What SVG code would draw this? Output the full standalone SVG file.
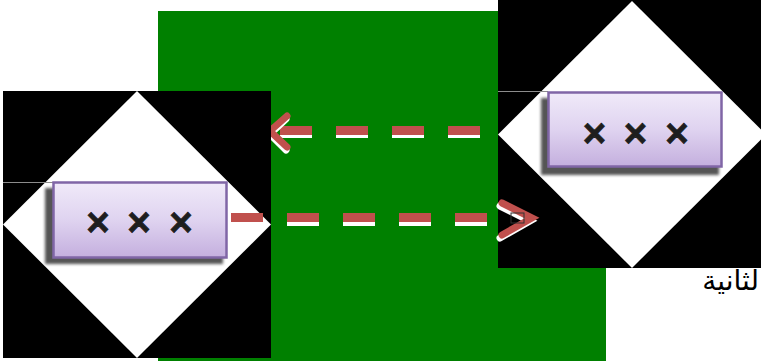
<svg xmlns="http://www.w3.org/2000/svg" width="761" height="363" viewBox="0 0 761 363">
<style>
.sq{fill:#000}
.dia{fill:#fff}
.lead{stroke:#8c8c8c;stroke-width:1.2;fill:none}
.box{fill:url(#pg);stroke:#8066a6;stroke-width:2.5}
.shadow{fill:#555;filter:url(#bl)}
.xx{font-family:"Liberation Sans",Arial,sans-serif;font-weight:bold;font-size:40px;fill:#1e1e1e;stroke:#1e1e1e;stroke-width:0.8;text-anchor:middle}
.dw{stroke:#fff;stroke-width:9;fill:none;stroke-dasharray:32 24}
.dr{stroke:#c0504d;stroke-width:9;fill:none;stroke-dasharray:32 24}
.hw{stroke:#fff;stroke-width:7;fill:none;stroke-linecap:round;stroke-linejoin:miter}
.hr{stroke:#c0504d;stroke-width:7;fill:none;stroke-linecap:round;stroke-linejoin:miter}
.ar{font-family:"DejaVu Sans","Noto Sans",sans-serif;font-size:28px;fill:#000}
</style>
<defs>
<linearGradient id="pg" x1="0" y1="0" x2="0" y2="1">
<stop offset="0" stop-color="#f0eaf9"/>
<stop offset="0.5" stop-color="#dfd3f0"/>
<stop offset="1" stop-color="#c4afde"/>
</linearGradient>
<filter id="bl" x="-10%" y="-10%" width="120%" height="120%"><feGaussianBlur stdDeviation="1.5"/></filter>
</defs>
<rect id="bg" x="158" y="11" width="448" height="350" fill="#008000"/>
<g id="nodeR">
<rect class="sq" x="498" y="0" width="268" height="268"/>
<polygon class="dia" points="632,1 766,134.5 632,268 498,134.5"/>
<line class="lead" x1="498" y1="91.5" x2="548" y2="91.5"/>
<rect class="shadow" x="541" y="98" width="178" height="77"/>
<rect class="box" x="548.5" y="92.5" width="173" height="74"/>
<text class="xx" x="594.5 615 635.5 656 677" y="147">× × ×</text>
</g>
<g id="connectors">
<g id="edgeTop">
<line class="dw" x1="480" y1="133.5" x2="279" y2="133.5"/>
<line class="dr" x1="480" y1="130.5" x2="279" y2="130.5"/>
<polyline class="hw" points="286,119 270,134 286,150"/>
<polyline class="hr" points="287,116 270,131 287,147"/>
</g>
</g>
<g id="nodeL">
<rect class="sq" x="3" y="91" width="268" height="267"/>
<polygon class="dia" points="137,91 271,224.5 137,358 3,224.5"/>
<line class="lead" x1="3" y1="182.5" x2="53" y2="182.5"/>
<rect class="shadow" x="45" y="188" width="178" height="76"/>
<rect class="box" x="53.5" y="182.5" width="173" height="75"/>
<text class="xx" x="98 118.5 139 160 181" y="236">× × ×</text>
</g>
<g id="connectors2">
<g id="edgeBottom">
<line class="dw" x1="231" y1="221.5" x2="490" y2="221.5"/>
<line class="dr" x1="231" y1="217.5" x2="490" y2="217.5"/>
<polyline class="hw" points="500,206 530,221 500,238"/>
<polyline class="hr" points="502,203 532,218 502,235"/>
<rect x="511" y="213" width="13" height="10" fill="none" stroke="#333" stroke-width="1"/>
</g>
</g>
<text class="ar" x="759" y="290" text-anchor="end">لثانية</text>
</svg>
